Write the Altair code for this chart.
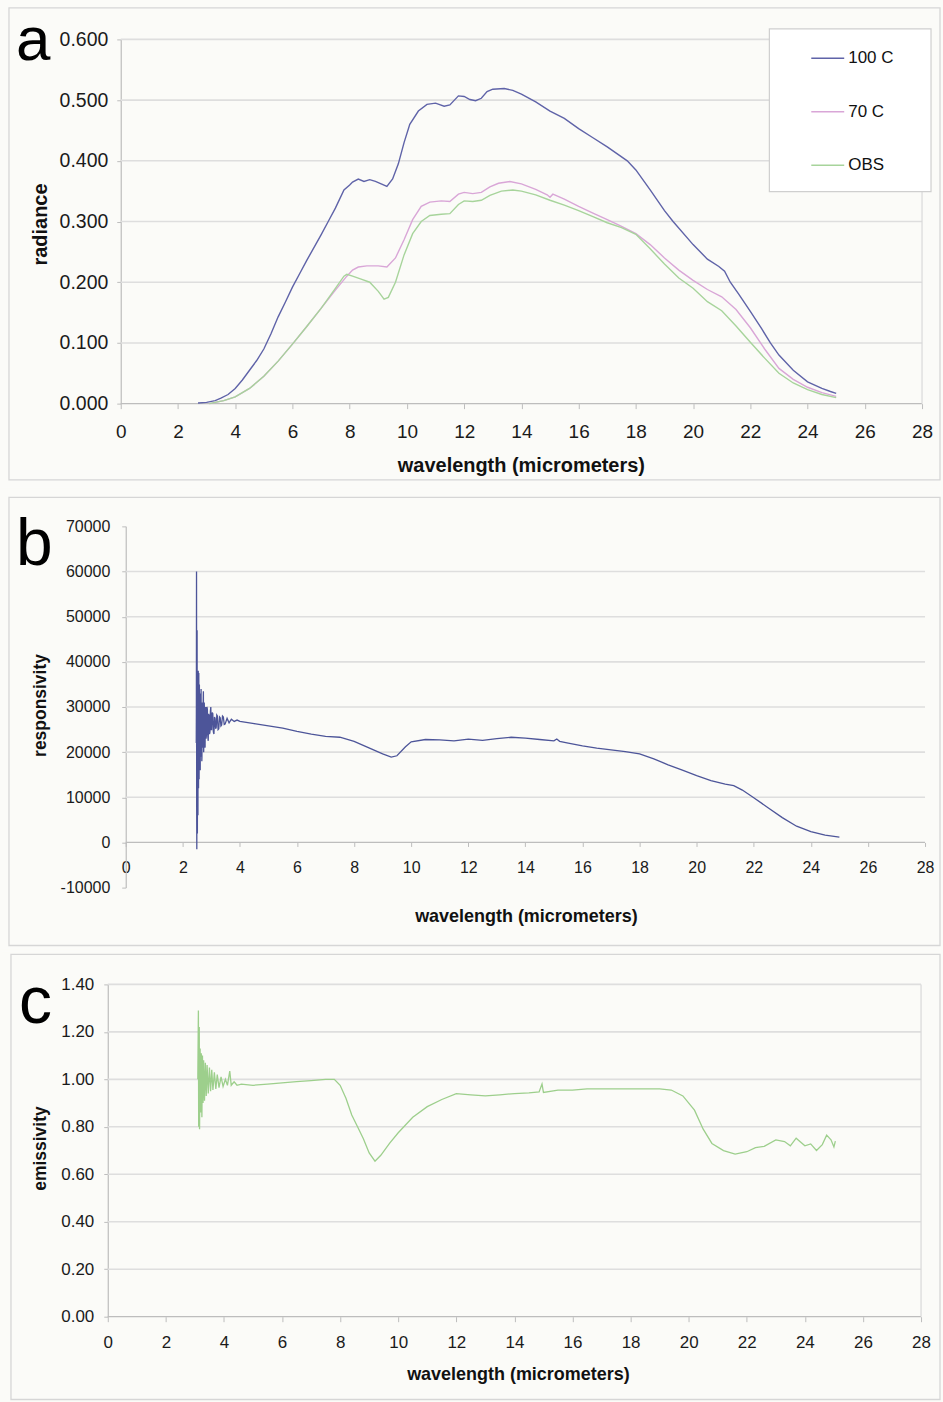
import altair as alt
import pandas as pd

FONT = "Liberation Sans"

# ---------------- panel a : radiance ----------------
A_NAMES = ["100 C", "70 C", "OBS"]
A_COLORS = ["#5f63a8", "#d9a6d7", "#a7d49b"]

a_100c = [(2.70, 0.001), (3.00, 0.002), (3.30, 0.005), (3.50, 0.009), (3.75, 0.015), (4.00, 0.025),
          (4.25, 0.039), (4.50, 0.055), (4.75, 0.071), (5.00, 0.090), (5.25, 0.115), (5.50, 0.143),
          (5.75, 0.167), (6.00, 0.192), (6.25, 0.214), (6.50, 0.236), (6.75, 0.257), (7.00, 0.278),
          (7.25, 0.300), (7.50, 0.322), (7.80, 0.352), (8.00, 0.360), (8.10, 0.365), (8.30, 0.370),
          (8.50, 0.366), (8.70, 0.369), (8.90, 0.366), (9.10, 0.362), (9.30, 0.358), (9.50, 0.370),
          (9.70, 0.395), (9.90, 0.430), (10.10, 0.460), (10.40, 0.482), (10.70, 0.493), (11.00, 0.495),
          (11.30, 0.490), (11.50, 0.492), (11.80, 0.507), (12.00, 0.506), (12.20, 0.501), (12.40, 0.499),
          (12.60, 0.503), (12.80, 0.514), (13.00, 0.518), (13.40, 0.519), (13.70, 0.516), (14.00, 0.510),
          (14.50, 0.497), (15.00, 0.482), (15.50, 0.470), (16.00, 0.453), (16.50, 0.438), (17.00, 0.423),
          (17.70, 0.400), (18.00, 0.385), (18.50, 0.352), (19.00, 0.318), (19.30, 0.300), (20.00, 0.262),
          (20.50, 0.238), (20.90, 0.226), (21.10, 0.218), (21.30, 0.200), (21.60, 0.180), (22.00, 0.152),
          (22.40, 0.123), (22.70, 0.100), (23.00, 0.080), (23.50, 0.055), (24.00, 0.036), (24.50, 0.025),
          (24.80, 0.020), (25.00, 0.017)]

a_70c = [(3.10, 0.000), (3.30, 0.002), (3.60, 0.005), (4.00, 0.011), (4.50, 0.025), (5.00, 0.045),
         (5.50, 0.070), (6.00, 0.098), (6.50, 0.127), (7.00, 0.157), (7.50, 0.187), (7.90, 0.210),
         (8.10, 0.220), (8.30, 0.225), (8.60, 0.227), (9.00, 0.227), (9.30, 0.225), (9.60, 0.240),
         (9.90, 0.270), (10.20, 0.303), (10.50, 0.325), (10.80, 0.332), (11.20, 0.334), (11.50, 0.333),
         (11.80, 0.345), (12.00, 0.348), (12.30, 0.346), (12.60, 0.348), (12.90, 0.357), (13.20, 0.363),
         (13.60, 0.366), (14.00, 0.362), (14.50, 0.353), (14.90, 0.344), (15.00, 0.340), (15.10, 0.345),
         (15.50, 0.337), (16.00, 0.325), (16.50, 0.314), (17.00, 0.303), (17.50, 0.292), (18.00, 0.280),
         (18.50, 0.262), (19.00, 0.240), (19.50, 0.220), (20.00, 0.203), (20.50, 0.188), (21.00, 0.176),
         (21.50, 0.155), (22.00, 0.125), (22.50, 0.090), (23.00, 0.058), (23.50, 0.040), (24.00, 0.027),
         (24.50, 0.018), (25.00, 0.012)]

a_obs = [(3.10, 0.000), (3.30, 0.002), (3.60, 0.005), (4.00, 0.011), (4.50, 0.025), (5.00, 0.045),
         (5.50, 0.070), (6.00, 0.098), (6.50, 0.127), (7.00, 0.157), (7.50, 0.190), (7.80, 0.210),
         (7.90, 0.213), (8.10, 0.210), (8.40, 0.205), (8.70, 0.200), (9.00, 0.185), (9.20, 0.172),
         (9.35, 0.175), (9.60, 0.200), (9.90, 0.245), (10.20, 0.280), (10.50, 0.300), (10.80, 0.310),
         (11.20, 0.312), (11.50, 0.313), (11.80, 0.328), (12.00, 0.334), (12.30, 0.333), (12.60, 0.335),
         (12.90, 0.343), (13.30, 0.350), (13.70, 0.352), (14.00, 0.350), (14.50, 0.344), (15.00, 0.335),
         (15.50, 0.327), (16.00, 0.318), (16.50, 0.308), (17.00, 0.298), (17.50, 0.290), (18.00, 0.279),
         (18.50, 0.255), (19.00, 0.230), (19.50, 0.207), (20.00, 0.190), (20.50, 0.168), (21.00, 0.153),
         (21.50, 0.128), (22.00, 0.101), (22.50, 0.075), (23.00, 0.050), (23.50, 0.034), (24.00, 0.023),
         (24.50, 0.015), (25.00, 0.010)]

A_TICKS = [0.0, 0.1, 0.2, 0.3, 0.4, 0.5, 0.6]

# ---------------- panel b : responsivity ----------------
b_resp = [(2.470, 22000), (2.475, 30000), (2.480, 60000), (2.485, 8000), (2.490, -1500),
          (2.495, 30000), (2.500, 47000), (2.505, 9000), (2.510, 2000), (2.515, 29000),
          (2.520, 38000), (2.525, 15000), (2.530, 6000), (2.535, 31000), (2.540, 38000),
          (2.545, 19000), (2.550, 12000), (2.555, 27000), (2.560, 37500), (2.565, 22000),
          (2.570, 14000), (2.575, 30000), (2.580, 35000), (2.585, 17000), (2.590, 18000),
          (2.595, 31000), (2.600, 33000), (2.605, 20000), (2.610, 16000), (2.615, 29000),
          (2.620, 32000), (2.625, 22000), (2.630, 20000), (2.635, 30000), (2.640, 34000),
          (2.645, 19000), (2.650, 21000), (2.655, 31000), (2.660, 30000), (2.665, 18000),
          (2.670, 19000), (2.675, 29000), (2.680, 31000), (2.690, 21000), (2.700, 22000),
          (2.710, 30000), (2.720, 33500), (2.730, 20000), (2.740, 23000), (2.750, 31000),
          (2.760, 29000), (2.770, 22000), (2.780, 21000), (2.790, 29500), (2.800, 30000),
          (2.815, 23000), (2.830, 24000), (2.845, 30000), (2.860, 29500), (2.875, 23500),
          (2.890, 22500), (2.905, 28500), (2.920, 28000), (2.935, 24000), (2.950, 24500),
          (2.965, 29000), (2.980, 30000), (2.995, 25000), (3.010, 25000), (3.030, 28800),
          (3.050, 28500), (3.070, 24500), (3.090, 24000), (3.110, 27800), (3.130, 27500),
          (3.150, 25200), (3.170, 25500), (3.190, 28200), (3.210, 28000), (3.235, 25000),
          (3.260, 25200), (3.285, 27800), (3.310, 27600), (3.335, 25800), (3.360, 26000),
          (3.390, 28000), (3.420, 27800), (3.450, 26100), (3.480, 26200), (3.550, 27500),
          (3.620, 26500), (3.700, 27300), (3.800, 26800), (3.900, 27100), (4.00, 26800),
          (4.50, 26300), (5.00, 25800), (5.50, 25300), (6.00, 24600), (6.50, 24000), (7.00, 23500),
          (7.50, 23300), (8.00, 22400), (8.50, 21000), (9.00, 19600), (9.30, 18900), (9.50, 19200),
          (9.80, 21200), (10.00, 22300), (10.50, 22800), (11.00, 22700), (11.50, 22500), (12.00, 22900),
          (12.50, 22600), (13.00, 23000), (13.50, 23300), (14.00, 23100), (14.50, 22800), (15.00, 22500),
          (15.10, 22900), (15.20, 22400), (15.50, 22000), (16.00, 21400), (16.50, 20900), (17.00, 20500),
          (17.50, 20100), (18.00, 19600), (18.50, 18500), (19.00, 17200), (19.50, 16000), (20.00, 14800),
          (20.50, 13700), (21.00, 12900), (21.30, 12600), (21.60, 11600), (22.00, 9900), (22.50, 7700),
          (23.00, 5500), (23.50, 3600), (24.00, 2400), (24.50, 1600), (25.00, 1200)]
B_TICKS = [-10000, 0, 10000, 20000, 30000, 40000, 50000, 60000, 70000]
B_GRID = [10000, 20000, 30000, 40000, 50000, 60000]

# ---------------- panel c : emissivity ----------------
c_emis = [(3.10, 1.00), (3.12, 1.29), (3.13, 0.80), (3.15, 1.22), (3.16, 0.79), (3.18, 1.13),
          (3.20, 0.86), (3.22, 1.11), (3.24, 0.84), (3.26, 1.10), (3.28, 0.90), (3.30, 1.08),
          (3.33, 0.91), (3.36, 1.07), (3.39, 0.93), (3.42, 1.06), (3.46, 0.94), (3.50, 1.05),
          (3.54, 0.95), (3.58, 1.04), (3.62, 0.955), (3.67, 1.03), (3.72, 0.96), (3.77, 1.02),
          (3.83, 0.965), (3.90, 1.01), (3.97, 0.97), (4.05, 1.00), (4.12, 0.975), (4.20, 1.035),
          (4.25, 0.975), (4.35, 0.99), (4.45, 0.975), (4.60, 0.98), (5.00, 0.975), (5.50, 0.98),
          (6.00, 0.985), (6.50, 0.99), (7.00, 0.995), (7.50, 1.00), (7.80, 1.00), (8.00, 0.975),
          (8.20, 0.92), (8.40, 0.85), (8.60, 0.80), (8.80, 0.75), (9.00, 0.69), (9.20, 0.655),
          (9.40, 0.68), (9.70, 0.73), (10.00, 0.775), (10.50, 0.84), (11.00, 0.885), (11.50, 0.915),
          (12.00, 0.94), (12.50, 0.935), (13.00, 0.93), (13.50, 0.935), (14.00, 0.94), (14.50, 0.943),
          (14.85, 0.947), (14.95, 0.98), (15.00, 0.945), (15.50, 0.955), (16.00, 0.955), (16.50, 0.96),
          (17.00, 0.96), (18.00, 0.96), (19.00, 0.96), (19.40, 0.955), (19.80, 0.93), (20.20, 0.87),
          (20.50, 0.79), (20.80, 0.73), (21.20, 0.70), (21.60, 0.685), (22.00, 0.695), (22.30, 0.712),
          (22.60, 0.718), (23.00, 0.745), (23.30, 0.738), (23.50, 0.72), (23.70, 0.752), (24.00, 0.72),
          (24.20, 0.728), (24.40, 0.70), (24.60, 0.725), (24.75, 0.765), (24.90, 0.745), (25.00, 0.715),
          (25.05, 0.74)]
C_TICKS = [0.0, 0.2, 0.4, 0.6, 0.8, 1.0, 1.2, 1.4]

X_TICKS = list(range(0, 29, 2))
X_MAX = 28

# ---------------- layout (pixels) ----------------
BG = "#fbfbf8"
GRID = "#dedede"
AXIS = "#bdbdbd"
ONE = pd.DataFrame({"k": [0]})
X0 = 107          # common left edge of every plot group (page x)
PAGE_W = 943

A_LEFT, A_RIGHT, A_TOP, HA = 120, 923, 39.5, 365
B_LEFT, B_RIGHT, B_TOP, HB = 125, 926, 526, 362
C_LEFT, C_RIGHT, C_TOP, HC = 107, 922, 983, 333


def x_scale(left, right):
    ppu = (right - left) / X_MAX
    return alt.Scale(domain=[-(left - X0) / ppu, X_MAX], nice=False, zero=False)


def box(x1, x2, y1, y2, stroke="#d6d6d6", width=1.3, fill="transparent"):
    return alt.Chart(ONE).mark_rect(fill=fill, stroke=stroke, strokeWidth=width).encode(
        x=alt.value(x1), x2=alt.value(x2), y=alt.value(y1), y2=alt.value(y2))


def alloc(top, bottom, rel_top):
    # invisible rectangle that reserves the panel's share of the page
    return box(-X0 + 0.5, PAGE_W - X0 - 0.5, top - rel_top + 0.5, bottom - rel_top - 0.5,
               stroke=BG, width=1)


def letter(t, x, y, size=64):
    return alt.Chart(ONE).mark_text(text=t, font=FONT, fontSize=size, color="#000000",
                                    align="left", baseline="alphabetic").encode(
        x=alt.value(x), y=alt.value(y))


def x_axis(lab_size, tick_size, lab_pad, title_size, title_x, title_y, **kw):
    return alt.Axis(values=X_TICKS, format="d", title="wavelength (micrometers)",
                    labelFont=FONT, labelFontSize=lab_size, labelColor="#1a1a1a",
                    labelPadding=lab_pad, tickSize=tick_size, tickColor=AXIS,
                    domain=False, grid=False,
                    titleFont=FONT, titleFontSize=title_size, titleFontWeight="bold",
                    titleColor="#111111", titleX=title_x, titleY=title_y,
                    titleAlign="center", titleBaseline="middle", labelFlush=False,
                    labelOverlap=False, **kw)


def y_axis(values, title, lab_size, lab_pad, title_size, title_x, title_y, **kw):
    return alt.Axis(values=values, title=title,
                    labelFont=FONT, labelFontSize=lab_size, labelColor="#1a1a1a",
                    labelPadding=lab_pad, tickSize=4, tickColor=AXIS,
                    domainColor=AXIS, domainWidth=1.2, grid=False,
                    titleFont=FONT, titleFontSize=title_size, titleFontWeight="bold",
                    titleColor="#111111", titleX=title_x, titleY=title_y, titleAngle=270,
                    titleAlign="center", titleBaseline="middle", labelOverlap=False, **kw)


def grid_rules(values, yenc, color=GRID, width=1.6):
    df = pd.DataFrame({"val": values})
    return alt.Chart(df).mark_rule(color=color, strokeWidth=width).encode(
        y=yenc, x=alt.datum(0), x2=alt.datum(X_MAX))


def right_border(y0, y1):
    return alt.Chart(ONE).mark_rule(color="#d9d9d9", strokeWidth=1.2).encode(
        x=alt.datum(X_MAX), y=alt.datum(y0), y2=alt.datum(y1))


# ---------------- panel a ----------------
rows = []
for name, pts in zip(A_NAMES, [a_100c, a_70c, a_obs]):
    for wl, v in pts:
        rows.append({"series": name, "wl": wl, "val": v})
df_a = pd.DataFrame(rows)

WA = A_RIGHT - X0
xa = alt.X("wl:Q", scale=x_scale(A_LEFT, A_RIGHT),
           axis=x_axis(19, 5, 14, 20, 521 - X0, 62))
ya = alt.Y("val:Q", scale=alt.Scale(domain=[0, 0.6], nice=False, zero=False),
           axis=y_axis(A_TICKS, "radiance", 19.5, 9, 20, -80, 185, format=".3f",
                       offset=-(A_LEFT - X0)))
lines_a = alt.Chart(df_a).mark_line(strokeWidth=1.4).encode(
    x=xa, y=ya,
    color=alt.Color("series:N", sort=A_NAMES,
                    scale=alt.Scale(domain=A_NAMES, range=A_COLORS),
                    legend=alt.Legend(orient="none", legendX=770 - X0, legendY=28 - A_TOP,
                                      title=None, direction="vertical", symbolType="stroke",
                                      symbolSize=1089, symbolStrokeWidth=1.5,
                                      labelFont=FONT, labelFontSize=17, labelColor="#111111",
                                      padding=13, rowPadding=27.5, symbolOffset=28,
                                      labelOffset=3)),
    order=alt.Order("wl:Q"),
)
panel_a = alt.layer(
    alloc(2, 489.5, A_TOP),
    box(8 - X0, 941 - X0, 8 - A_TOP, 481 - A_TOP),
    grid_rules(A_TICKS[1:], ya),
    grid_rules([0.0], ya, color=AXIS, width=1.2),
    right_border(0, 0.6),
    box(770 - X0, 932 - X0, 29 - A_TOP, 192 - A_TOP, stroke="#cfcfcf", width=1.2, fill="#ffffff"),
    lines_a,
    letter("a", 15 - X0, 60 - A_TOP, size=62),
).properties(width=WA, height=HA, view=alt.ViewBackground(stroke="transparent"))

# ---------------- panel b ----------------
df_b = pd.DataFrame(b_resp, columns=["wl", "val"])
WB = B_RIGHT - X0
zero_b = HB * 70000 / 80000
xb = alt.X("wl:Q", scale=x_scale(B_LEFT, B_RIGHT),
           axis=x_axis(16, 4, 13, 18, 526 - X0, 74, offset=-(HB - zero_b)))
yb = alt.Y("val:Q", scale=alt.Scale(domain=[-10000, 70000], nice=False, zero=False),
           axis=y_axis(B_TICKS, "responsivity", 16, 12, 17.5, -85, 179,
                       offset=-(B_LEFT - X0),
                       labelExpr="datum.value < 0 ? '-' + format(-datum.value, 'd') : format(datum.value, 'd')"))
line_b = alt.Chart(df_b).mark_line(strokeWidth=1.3, color="#4d5599").encode(
    x=xb, y=yb, order=alt.Order("wl:Q"))
panel_b = alt.layer(
    alloc(489.5, 950, B_TOP),
    box(8 - X0, 941 - X0, 497 - B_TOP, 946 - B_TOP),
    grid_rules(B_GRID, yb),
    grid_rules([0], yb, color=AXIS, width=1.2),
    line_b,
    letter("b", 15 - X0, 565 - B_TOP, size=66),
).properties(width=WB, height=HB, view=alt.ViewBackground(stroke="transparent"))

# ---------------- panel c ----------------
df_c = pd.DataFrame(c_emis, columns=["wl", "val"])
WC = C_RIGHT - X0
xc = alt.X("wl:Q", scale=x_scale(C_LEFT, C_RIGHT),
           axis=x_axis(17, 5, 12.5, 18, 518 - X0, 58))
yc = alt.Y("val:Q", scale=alt.Scale(domain=[0, 1.4], nice=False, zero=False),
           axis=y_axis(C_TICKS, "emissivity", 17, 10, 17.5, -67, 164, format=".2f",
                       offset=-(C_LEFT - X0)))
line_c = alt.Chart(df_c).mark_line(strokeWidth=1.3, color="#9dcf8c").encode(
    x=xc, y=yc, order=alt.Order("wl:Q"))
panel_c = alt.layer(
    alloc(950, 1402, C_TOP),
    box(10 - X0, 941 - X0, 953 - C_TOP, 1399 - C_TOP),
    grid_rules(C_TICKS[1:], yc),
    grid_rules([0.0], yc, color=AXIS, width=1.2),
    right_border(0, 1.4),
    line_c,
    letter("c", 18 - X0, 1022 - C_TOP, size=66),
).properties(width=WC, height=HC, view=alt.ViewBackground(stroke="transparent"))

chart = alt.concat(panel_a, panel_b, panel_c, columns=1, spacing=0,
                   bounds="full").properties(padding=0, background=BG)

chart.save("out.html", embed_options={"renderer": "svg", "actions": False})
